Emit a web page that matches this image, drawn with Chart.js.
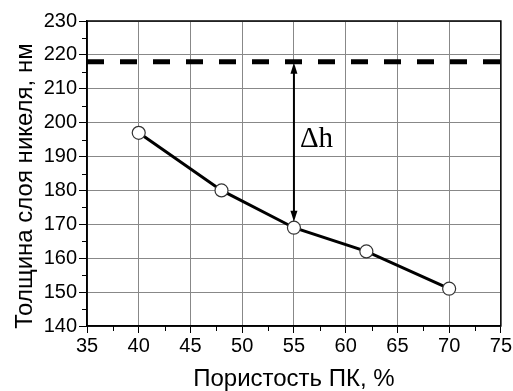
<!DOCTYPE html>
<html lang="ru">
<head>
    <meta charset="UTF-8">
    <script src="https://cdn.jsdelivr.net/npm/chart.js@4.4.0/dist/chart.umd.min.js"></script>
    <title>Толщина слоя никеля</title>
    <style>
        body { margin: 0; background: #fff; }
    </style>
</head>
<body>
    <canvas id="chart" width="513" height="391"></canvas>

    <script>
    // data
    const porosity = [40, 48, 55, 62, 70];
    const thickness = [197, 180, 169, 162, 151];
    const refLevel = 218;        // dashed line, thickness without pores
    const arrowX = 55;           // where delta h is marked
    const xRange = [35, 75];
    const yRange = [140, 230];
    const yTitle = 'Толщина слоя никеля, нм';
    const xTitle = 'Пористость ПК, %';

    const fontSans = 'Arial, "Liberation Sans", sans-serif';

    // minor ticks, double arrow, labels and frame
    const extras = {
        id: 'extras',
        afterDraw(chart) {
            const ctx = chart.ctx;
            const xs = chart.scales.x, ys = chart.scales.y;
            const a = chart.chartArea;
            ctx.save();
            ctx.strokeStyle = '#000';
            ctx.lineWidth = 1;
            ctx.beginPath();
            for (let v = xRange[0] + 2.5; v < xRange[1]; v += 5) {
                const px = Math.round(xs.getPixelForValue(v)) + 0.5;
                ctx.moveTo(px, a.bottom); ctx.lineTo(px, a.bottom + 5);
            }
            for (let v = yRange[0] + 5; v < yRange[1]; v += 10) {
                const py = Math.round(ys.getPixelForValue(v)) + 0.5;
                ctx.moveTo(a.left, py); ctx.lineTo(a.left - 5, py);
            }
            ctx.stroke();

            // frame
            ctx.lineWidth = 1.5;
            ctx.strokeRect(a.left, a.top, a.right - a.left, a.bottom - a.top);

            // double-headed arrow
            const ax = xs.getPixelForValue(arrowX);
            const yTop = ys.getPixelForValue(refLevel) + 1;
            const yBot = ys.getPixelForValue(thickness[porosity.indexOf(arrowX)]) - 6;
            ctx.lineWidth = 2;
            ctx.beginPath();
            ctx.moveTo(ax, yTop + 8); ctx.lineTo(ax, yBot - 8);
            ctx.stroke();
            ctx.fillStyle = '#000';
            ctx.beginPath();
            ctx.moveTo(ax, yTop); ctx.lineTo(ax - 3.5, yTop + 11); ctx.lineTo(ax + 3.5, yTop + 11);
            ctx.closePath(); ctx.fill();
            ctx.beginPath();
            ctx.moveTo(ax, yBot); ctx.lineTo(ax - 3.5, yBot - 11); ctx.lineTo(ax + 3.5, yBot - 11);
            ctx.closePath(); ctx.fill();

            ctx.font = '29px "Liberation Serif", "Times New Roman", serif';
            ctx.textAlign = 'left';
            ctx.textBaseline = 'middle';
            ctx.fillText('\u0394h', ax + 6, ys.getPixelForValue(195));

            // y axis title
            ctx.font = '24px ' + fontSans;
            ctx.textAlign = 'center';
            ctx.translate(25, 186);
            ctx.rotate(-Math.PI / 2);
            ctx.fillText(yTitle, 0, 0);
            ctx.restore();
        }
    };

    const ctx = document.getElementById('chart').getContext('2d');
    new Chart(ctx, {
        type: 'scatter',
        data: {
            datasets: [
                {
                    data: [{x: xRange[0], y: refLevel}, {x: xRange[1], y: refLevel}],
                    showLine: true,
                    borderColor: '#000',
                    borderWidth: 5,
                    borderDash: [17, 16],
                    pointRadius: 0
                },
                {
                    data: porosity.map((p, i) => ({x: p, y: thickness[i]})),
                    showLine: true,
                    borderColor: '#000',
                    borderWidth: 3,
                    pointRadius: 6.5,
                    pointBorderWidth: 1.2,
                    pointBorderColor: '#333',
                    pointBackgroundColor: '#fff'
                }
            ]
        },
        options: {
            responsive: false,
            animation: false,
            layout: { padding: { top: 21, right: 12, left: 0, bottom: 0 } },
            plugins: { legend: { display: false }, tooltip: { enabled: false } },
            scales: {
                x: {
                    type: 'linear',
                    min: xRange[0], max: xRange[1],
                    afterFit(s) { s.height = 65; },
                    ticks: { stepSize: 5, color: '#000', padding: 1, font: { family: fontSans, size: 20 } },
                    grid: { color: '#888', lineWidth: 1, tickLength: 7, tickColor: '#000' },
                    border: { color: '#000', width: 1.5 },
                    title: {
                        display: true, text: xTitle, color: '#000',
                        font: { family: fontSans, size: 24, lineHeight: 1 }, padding: { top: 0, bottom: 0 }
                    }
                },
                y: {
                    min: yRange[0], max: yRange[1],
                    afterFit(s) { s.width = 87; },
                    ticks: { stepSize: 10, color: '#000', padding: 2, font: { family: fontSans, size: 20 } },
                    grid: { color: '#888', lineWidth: 1, tickLength: 8, tickColor: '#000' },
                    border: { color: '#000', width: 1.5 },
                    title: { display: false }
                }
            }
        },
        plugins: [extras]
    });
    </script>
</body>
</html>
